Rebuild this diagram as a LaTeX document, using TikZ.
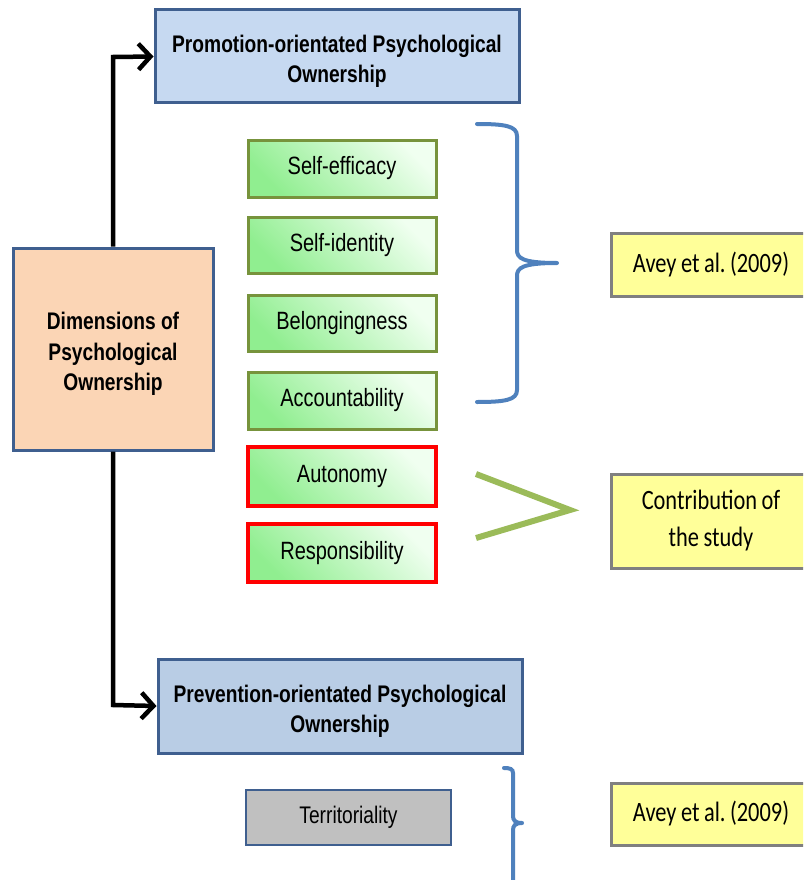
\documentclass[tikz,border=0pt]{standalone}
\usepackage{fontspec}
\setmainfont{Liberation Sans}
\newfontfamily\narrowf[FakeStretch=0.8]{Liberation Sans}
\newfontfamily\calib[FakeStretch=0.8]{Carlito}
\usetikzlibrary{arrows.meta}
\definecolor{hdrfill}{HTML}{C6D9F1}
\definecolor{hdrfill2}{HTML}{B9CDE5}
\definecolor{boxblue}{HTML}{3F5F8F}
\definecolor{peach}{HTML}{FBD5B5}
\definecolor{olive}{HTML}{77933C}
\definecolor{gA}{HTML}{90EE90}
\definecolor{gB}{HTML}{F0FFF0}
\definecolor{yel}{HTML}{FFFF99}
\definecolor{ygray}{HTML}{808080}
\definecolor{brace}{HTML}{4F81BD}
\definecolor{vgreen}{HTML}{9BBB59}
\definecolor{terr}{HTML}{C0C0C0}
\newcommand{\dropstrut}{\rule{0pt}{27pt}}
\newcommand{\ws}{\hspace{4.5pt}}
\tikzset{
  hdr/.style={draw=boxblue, line width=3pt, fill=hdrfill, align=center, inner sep=0pt,
    font=\narrowf\bfseries\fontsize{24}{30}\selectfont},
  dimbox/.style={draw=boxblue, line width=3pt, fill=peach, align=center, inner sep=0pt,
    font=\narrowf\bfseries\fontsize{24}{30.5}\selectfont},
  item/.style={draw=olive, line width=3pt, left color=gA, right color=gB, shading angle=135,
    inner sep=0pt, font=\narrowf\fontsize{25}{30}\selectfont},
  reditem/.style={item, draw=red, line width=3.5pt},
  ref/.style={draw=ygray, line width=3pt, fill=yel, align=center, inner sep=0pt,
    font=\calib\fontsize{28}{37}\selectfont},
  conn/.style={line width=4.5pt, -{Straight Barb[length=12pt,width=26pt,line width=4.5pt]}},
}
\begin{document}
\begin{tikzpicture}[x=1pt,y=-1pt]
\useasboundingbox (0,0) rectangle (803,880);
\clip (0,0) rectangle (803,880);
\node[hdr, minimum width=364pt, minimum height=93pt] (promo) at (337,56.5) {\dropstrut Promotion-orientated Psychological\\Ownership};
\node[dimbox, minimum width=200pt, minimum height=202pt] (dim) at (113,349) {\dropstrut Dimensions of\\Psychological\\Ownership};
\node[item, minimum width=188pt, minimum height=57pt] (se) at (342,168.5) {Self-efficacy};
\node[item, minimum width=188pt, minimum height=56pt] (si) at (342,245) {Self-identity};
\node[item, minimum width=188pt, minimum height=56pt] (be) at (342,323) {Belongingness};
\node[item, minimum width=188pt, minimum height=57pt] (ac) at (342,400.5) {Accountability};
\node[reditem, minimum width=188pt, minimum height=59pt] (au) at (342,476.5) {Autonomy};
\node[reditem, minimum width=188pt, minimum height=58pt] (re) at (342,553) {Responsibility};
\node[hdr, fill=hdrfill2, minimum width=364pt, minimum height=94pt] (prev) at (340,706) {\dropstrut Prevention-orientated Psychological\\Ownership};
\node[draw=boxblue, line width=2pt, fill=terr, minimum width=205pt, minimum height=55pt, inner sep=0pt,
  font=\narrowf\fontsize{24}{30}\selectfont] (ter) at (348.5,817.5) {Territoriality};
\node[ref, minimum width=220pt, minimum height=63pt, text width=200pt, align=left] (av1) at (721,264.5) {\hspace*{11pt}\makebox[158pt][c]{Avey\ws et\ws al.\ws (2009)}};
\node[ref, minimum width=220pt, minimum height=94pt, text width=200pt, align=left] (con) at (721,521) {\hspace*{11pt}\makebox[158pt][c]{\begin{tabular}{@{}c@{}}Contribution\ws of\\the\ws study\end{tabular}}};
\node[ref, minimum width=220pt, minimum height=62pt, text width=200pt, align=left] (av2) at (721,814) {\hspace*{11pt}\makebox[158pt][c]{Avey\ws et\ws al.\ws (2009)}};
% connectors
\draw[conn] (dim.north) -- (113,57) -- (promo.west);
\draw[conn] (dim.south) -- (113,705) -- (prev.west);
% blue brace (upper)
\draw[brace, line width=4pt, line cap=round]
  (477,124) .. controls (505,124) and (517,126) .. (517,136)
  -- (517,250) .. controls (517,258) and (522,263) .. (557,263)
  (557,263) .. controls (522,263) and (517,268) .. (517,276)
  -- (517,390) .. controls (517,400) and (505,402) .. (477,402);
% green >
\draw[vgreen, line width=6pt] (476,474) -- (570,510) -- (476,538);
% small brace (lower)
\draw[brace, line width=4pt, line cap=round]
  (504,768) .. controls (510,768) and (513,769) .. (513,773)
  -- (513,816) .. controls (513,820) and (515,823) .. (522,823)
  (522,823) .. controls (515,823) and (513,826) .. (513,830)
  -- (513,890);
\end{tikzpicture}
\end{document}
